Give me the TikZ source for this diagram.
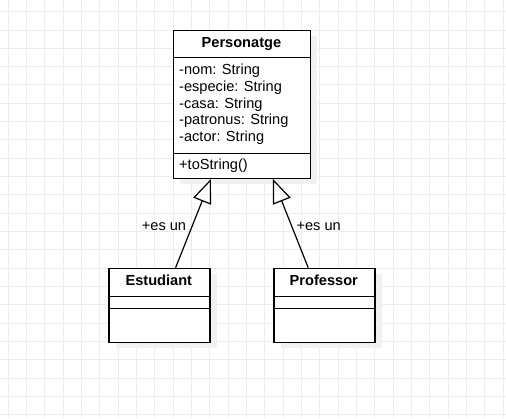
\documentclass[tikz,border=0pt]{standalone}
\usepackage{fontspec}
\setmainfont{Liberation Sans}
\usetikzlibrary{arrows.meta}
\definecolor{gridc}{HTML}{EDEDED}
\definecolor{shadowc}{HTML}{F1F1F1}
\begin{document}
\begin{tikzpicture}[x=1bp,y=-1bp,
  font=\fontsize{14.6bp}{16.8bp}\selectfont,
  umlbox/.style={draw=black, fill=white, line width=1.2bp, inner sep=0pt, anchor=north west},
  shad/.style={fill=shadowc, draw=none, inner sep=0pt, anchor=north west},
  divider/.style={draw=black, line width=1.2bp},
  attr/.style={inner sep=0pt, anchor=west, text height=10.5bp, text depth=3bp},
  title/.style={inner sep=0pt, anchor=center, text height=10.5bp, text depth=3bp, font=\fontsize{14.6bp}{16.8bp}\selectfont\bfseries},
  inherit/.style={draw=black, line width=1.2bp, -{Triangle[open, length=24bp, width=19bp]}},
  lbl/.style={inner sep=0pt, anchor=center, text height=10.5bp, text depth=3bp}
]
\fill[white] (0,0) rectangle (506,418);
\useasboundingbox (0,0) rectangle (506,418);
% grid
\foreach \i in {0,...,27} \draw[gridc, line width=1bp] ({8.33+18.33*\i},0) -- ({8.33+18.33*\i},418);
\foreach \j in {0,...,22} \draw[gridc, line width=1bp] (0,{11.67+18.33*\j}) -- (506,{11.67+18.33*\j});

% shadows
\node[shad, minimum width=137.3bp, minimum height=147.7bp] (pshad) at (179.7,36) {};
\node[shad, minimum width=101bp, minimum height=74bp] (eshad) at (115.3,273.7) {};
\node[shad, minimum width=101bp, minimum height=74bp] (fshad) at (280.3,273.7) {};

% Personatge
\node[umlbox, minimum width=137.3bp, minimum height=147.7bp] (pers) at (172.7,30) {};
\draw[divider] (172.7,57.7) coordinate (pd1a) -- (310,57.7) coordinate (pd1b);
\draw[divider] (172.7,153.3) coordinate (pd2a) -- (310,153.3) coordinate (pd2b);
\node[title] (ptitle) at (241.4,44) {Personatge};
\node[attr] (a1) at (179,70.7) {-nom: String};
\node[attr] (a2) at (179,87.5) {-especie: String};
\node[attr] (a3) at (179,104.3) {-casa: String};
\node[attr] (a4) at (179,121.1) {-patronus: String};
\node[attr] (a5) at (179,137.9) {-actor: String};
\node[attr] (m1) at (179,165.7) {+toString()};

% Estudiant
\node[umlbox, minimum width=101bp, minimum height=74bp] (est) at (108.3,267.7) {};
\draw[divider] (108.3,296.7) coordinate (ed1a) -- (209.3,296.7) coordinate (ed1b);
\draw[divider] (108.3,308.3) coordinate (ed2a) -- (209.3,308.3) coordinate (ed2b);
\node[title] (etitle) at (158.8,281.7) {Estudiant};

% Professor
\node[umlbox, minimum width=101bp, minimum height=74bp] (prof) at (273.3,267.7) {};
\draw[divider] (273.3,296.7) coordinate (fd1a) -- (374.3,296.7) coordinate (fd1b);
\draw[divider] (273.3,308.3) coordinate (fd2a) -- (374.3,308.3) coordinate (fd2b);
\node[title] (ftitle) at (323.8,281.7) {Professor};

% inheritance
\draw[inherit] ([xshift=16.2bp]est.north) -- ([xshift=-31bp]pers.south);
\draw[inherit] ([xshift=-16.2bp]prof.north) -- ([xshift=31bp]pers.south);
\node[lbl] (l1) at (164,227) {+es un};
\node[lbl] (l2) at (318.7,227) {+es un};
\end{tikzpicture}
\end{document}
